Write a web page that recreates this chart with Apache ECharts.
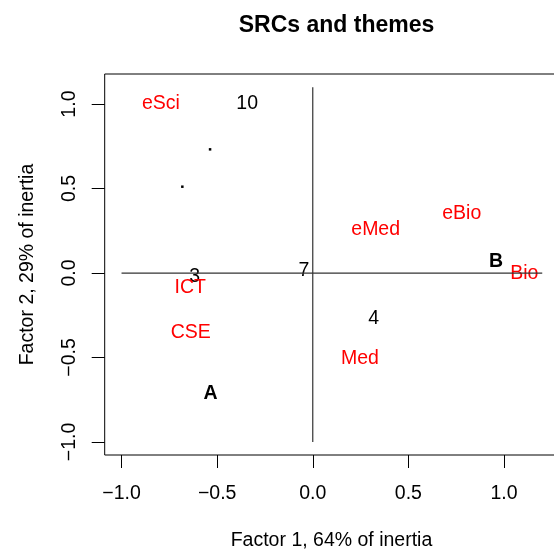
<!DOCTYPE html>
<html><head><meta charset="utf-8">
<script src="https://cdn.jsdelivr.net/npm/echarts@6/dist/echarts.min.js"></script>
<style>html,body{margin:0;padding:0;background:#fff;overflow:hidden}#c{width:562px;height:552px}</style>
</head><body><div id="c"></div>
<script>
// SRC (row) points
const srcLabels = ['10', '3', '7', '4', 'A', 'B'];
const srcX = [-0.343, -0.617, -0.046, 0.319, -0.535, 0.959];
const srcY = [1.014, -0.012, 0.025, -0.263, -0.707, 0.077];
// theme (column) points
const themeLabels = ['eSci', 'ICT', 'CSE', 'eMed', 'eBio', 'Bio', 'Med'];
const themeX = [-0.794, -0.641, -0.638, 0.329, 0.779, 1.106, 0.247];
const themeY = [1.014, -0.076, -0.342, 0.264, 0.363, 0.003, -0.5];
// small dot points
const dotX = [-0.537, -0.682];
const dotY = [0.732, 0.511];
// reference cross lines
const hLineX = [-1, 1.2], hLineY = [0, 0];
const vLineX = [0, 0], vLineY = [-1, 1.1];
// ticks
const xTicks = [-1, -0.5, 0, 0.5, 1];
const yTicks = [-1, -0.5, 0, 0.5, 1];

const FONT = 'Liberation Sans, Arial, Helvetica, sans-serif';
const FS = 19.5;
const fmt = v => (v < 0 ? '\u2212' : '') + Math.abs(v).toFixed(1);
const zip = (xs, ys) => xs.map((x, i) => [x, ys[i]]);

const chart = echarts.init(document.getElementById('c'), null, {renderer: 'canvas'});
chart.setOption({
  animation: false,
  backgroundColor: '#fff',
  title: {
    text: 'SRCs and themes',
    left: 331.5, top: 9, textAlign: 'center',
    textStyle: {fontFamily: FONT, fontSize: 23, fontWeight: 'bold', color: '#000'}
  },
  grid: {
    left: 104.7, top: 74, right: 562 - 558.3, bottom: 97,
    outerBoundsMode: 'none', containLabel: false,
    show: true, borderColor: '#000', borderWidth: 1, backgroundColor: 'transparent'
  },
  xAxis: {
    type: 'value', min: -1.088, max: 1.284,
    name: 'Factor 1, 64% of inertia', nameLocation: 'middle', nameGap: 76,
    nameTextStyle: {fontFamily: FONT, fontSize: FS, color: '#000'},
    axisLine: {show: false, onZero: false},
    axisTick: {show: true, customValues: xTicks, length: 13, lineStyle: {color: '#000'}},
    axisLabel: {customValues: xTicks, formatter: fmt, margin: 28.5,
      fontFamily: FONT, fontSize: FS, color: '#000'},
    splitLine: {show: false}
  },
  yAxis: {
    type: 'value', min: -1.077, max: 1.178,
    name: 'Factor 2, 29% of inertia', nameLocation: 'middle', nameGap: 67,
    nameTextStyle: {fontFamily: FONT, fontSize: FS, color: '#000'},
    axisLine: {show: false, onZero: false},
    axisTick: {show: true, customValues: yTicks, length: 13, lineStyle: {color: '#000'}},
    axisLabel: {customValues: yTicks, formatter: fmt, margin: 25.5, rotate: 90,
      fontFamily: FONT, fontSize: FS, color: '#000'},
    splitLine: {show: false}
  },
  series: [
    {type: 'line', data: zip(hLineX, hLineY), symbol: 'none', silent: true,
      lineStyle: {color: '#333', width: 1.2}},
    {type: 'line', data: zip(vLineX, vLineY), symbol: 'none', silent: true,
      lineStyle: {color: '#333', width: 1.2}},
    {type: 'scatter', data: zip(dotX, dotY), symbol: 'rect', symbolSize: 2.5,
      itemStyle: {color: '#000', opacity: 1}, silent: true},
    {type: 'scatter', symbolSize: 0, silent: true,
      data: srcLabels.map((l, i) => ({value: [srcX[i], srcY[i]], name: l,
        label: {fontWeight: /^[A-Z]$/.test(l) ? 'bold' : 'normal'}})),
      itemStyle: {color: '#000', opacity: 1},
      label: {show: true, position: 'inside', formatter: p => p.name, opacity: 1, offset: [0, 1.5],
        fontFamily: FONT, fontSize: FS, color: '#000', align: 'center', verticalAlign: 'middle'}},
    {type: 'scatter', symbolSize: 0, silent: true,
      data: themeLabels.map((l, i) => ({value: [themeX[i], themeY[i]], name: l})),
      itemStyle: {color: '#ff0000', opacity: 1},
      label: {show: true, position: 'inside', formatter: p => p.name, opacity: 1, offset: [0, 1.5],
        fontFamily: FONT, fontSize: FS, color: '#ff0000', align: 'center', verticalAlign: 'middle'}}
  ]
});
</script></body></html>
